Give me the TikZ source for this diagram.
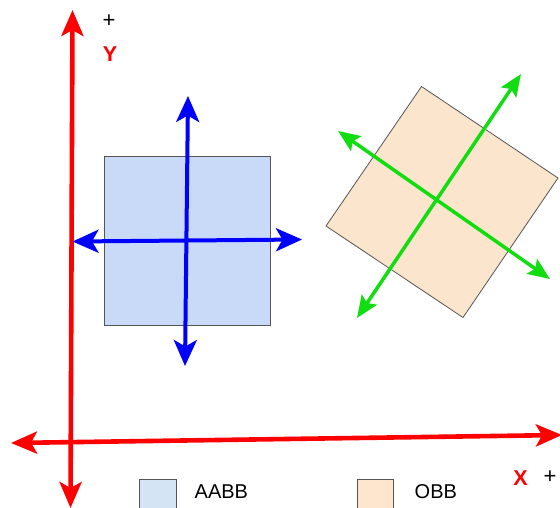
\documentclass[tikz,border=0pt]{standalone}
\usepackage{fontspec}
\setmainfont{Liberation Sans}
\usetikzlibrary{arrows.meta}
\definecolor{aabbfill}{HTML}{C9DAF8}
\definecolor{aabblegend}{HTML}{D4E4F5}
\definecolor{obbfill}{HTML}{FCE5CD}
\definecolor{obblegend}{HTML}{FDE5CE}
\definecolor{boxline}{HTML}{555555}
\definecolor{mygreen}{HTML}{11DD11}
\tikzset{
  axis/.style={draw=red, line width=4.6pt, {Stealth[length=26pt,width=22pt,inset=6pt]}-{Stealth[length=26pt,width=22pt,inset=6pt]}},
  bluearr/.style={draw=blue, line width=4pt, {Stealth[length=26pt,width=23pt,inset=6.5pt]}-{Stealth[length=26pt,width=23pt,inset=6.5pt]}},
  greenarr/.style={draw=mygreen, line width=3.5pt, {Stealth[length=22pt,width=18pt,inset=4pt]}-{Stealth[length=22pt,width=18pt,inset=4pt]}},
  bbox/.style={draw=boxline, line width=0.8pt},
  lbl/.style={font=\fontsize{20}{24}\selectfont, inner sep=0pt},
  axlbl/.style={font=\fontsize{21.5}{24}\selectfont\bfseries, text=red, inner sep=0pt},
  plus/.style={font=\fontsize{22}{24}\selectfont, inner sep=0pt},
}
\begin{document}
\begin{tikzpicture}[x=1pt,y=-1pt]
\useasboundingbox (0,0) rectangle (560,507);
\clip (0,0) rectangle (560,507);
% AABB box
\filldraw[bbox, fill=aabbfill] (104.5,156) rectangle (270,325);
% OBB box
\filldraw[bbox, fill=obbfill] (421.5,86.5) -- (558,178) -- (463,317.5) -- (326,226) -- cycle;
% coordinates
\coordinate (yt) at (72.5,10);
\coordinate (yb) at (70.5,508);
\coordinate (xl) at (11,443);
\coordinate (xr) at (562,435);
\coordinate (bl) at (72.5,241.5);
\coordinate (br) at (302,239.5);
\coordinate (bt) at (188,96);
\coordinate (bb) at (185,366);
\coordinate (g1a) at (357,318);
\coordinate (g1b) at (521,74);
\coordinate (g2a) at (338,131);
\coordinate (g2b) at (550,279);
% axes
\draw[axis] (yb) -- (yt);
\draw[axis] (xl) -- (xr);
% AABB axes
\draw[bluearr] (bl) -- (br);
\draw[bluearr] (bb) -- (bt);
% OBB axes
\draw[greenarr] (g1a) -- (g1b);
\draw[greenarr] (g2a) -- (g2b);
% labels
\node[plus] (py) at (109,21) {+};
\node[axlbl] (ly) at (110,54.5) {Y};
\node[axlbl] (lx) at (520.5,478) {X};
\node[plus] (px) at (550,477) {+};
% legend
\filldraw[bbox, fill=aabblegend] (139,479.5) rectangle (176.5,520);
\node[lbl, anchor=west] (la) at (194.5,492) {AABB};
\filldraw[bbox, fill=obblegend] (357.5,479.5) rectangle (393.5,520);
\node[lbl, anchor=west] (lo) at (414.5,492) {OBB};
\end{tikzpicture}
\end{document}
